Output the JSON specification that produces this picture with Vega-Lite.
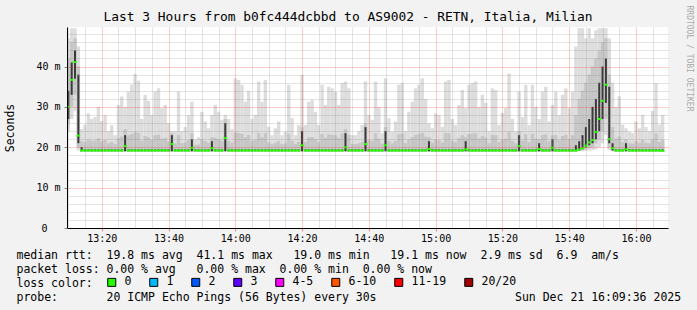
{
"$schema":"https://vega.github.io/schema/vega-lite/v6.json",
"width":601,"height":201,
"autosize":{"type":"none"},
"padding":{"left":67,"top":27,"right":29,"bottom":82},
"background":"#f2f2f2",
"view":{"fill":"#ffffff","stroke":null},
"config":{"font":"DejaVu Sans Mono"},
"title":{"text":"Last 3 Hours from b0fc444dcbbd to AS9002 - RETN, Italia, Milian","font":"DejaVu Sans Mono","fontSize":12.9,"fontWeight":"normal","color":"#000000","anchor":"middle","dx":-19.5,"offset":-19},
"data":{"values":[
{"m":10,"lo":24,"hi":47,"ml":26,"mh":42,"cl":27,"ch":34,"md":30},
{"m":11,"lo":27,"hi":49.5,"ml":30,"mh":46,"cl":33,"ch":41,"md":36.7},
{"m":12,"lo":29,"hi":49.5,"ml":33,"mh":47,"cl":37,"ch":44,"md":41.1},
{"m":13,"lo":19.2,"hi":45,"ml":20,"mh":40,"cl":21,"ch":38,"md":22.9},
{"m":14,"lo":19,"hi":24.5,"ml":19,"mh":21.5,"cl":19,"ch":20,"md":19.2},
{"m":15,"lo":19,"hi":25.6,"ml":19,"mh":21.3,"cl":19,"ch":19.5,"md":19.2},
{"m":16,"lo":19,"hi":28.4,"ml":19,"mh":21.9,"cl":19,"ch":19.5,"md":19.2},
{"m":17,"lo":19,"hi":27,"ml":19,"mh":21.6,"cl":19,"ch":19.5,"md":19.2},
{"m":18,"lo":19,"hi":27.5,"ml":19,"mh":21.7,"cl":19,"ch":19.5,"md":19.2},
{"m":19,"lo":19,"hi":30,"ml":19,"mh":22.2,"cl":19,"ch":19.5,"md":19.2},
{"m":20,"lo":19,"hi":26.5,"ml":19,"mh":21.5,"cl":19,"ch":19.5,"md":19.2},
{"m":21,"lo":19,"hi":28,"ml":19,"mh":21.8,"cl":19,"ch":19.5,"md":19.2},
{"m":22,"lo":19,"hi":24,"ml":19,"mh":21,"cl":19,"ch":19.5,"md":19.2},
{"m":23,"lo":19,"hi":25.5,"ml":19,"mh":21.3,"cl":19,"ch":19.5,"md":19.2},
{"m":24,"lo":19,"hi":23,"ml":19,"mh":20.8,"cl":19,"ch":19.5,"md":19.2},
{"m":25,"lo":19,"hi":30.5,"ml":19,"mh":22.3,"cl":19,"ch":19.5,"md":19.2},
{"m":26,"lo":19,"hi":32.6,"ml":19,"mh":22.7,"cl":19,"ch":19.5,"md":19.2},
{"m":27,"lo":19,"hi":30,"ml":19,"mh":24.5,"cl":19,"ch":23,"md":20.3},
{"m":28,"lo":19,"hi":33.8,"ml":19,"mh":23,"cl":19,"ch":19.5,"md":19.2},
{"m":29,"lo":19,"hi":35.5,"ml":19,"mh":23.3,"cl":19,"ch":19.5,"md":19.2},
{"m":30,"lo":19,"hi":38.1,"ml":19,"mh":23.8,"cl":19,"ch":19.5,"md":19.2},
{"m":31,"lo":19,"hi":36.5,"ml":19,"mh":23.5,"cl":19,"ch":19.5,"md":19.2},
{"m":32,"lo":19,"hi":27,"ml":19,"mh":21.6,"cl":19,"ch":19.5,"md":19.2},
{"m":33,"lo":19,"hi":33,"ml":19,"mh":22.8,"cl":19,"ch":19.5,"md":19.2},
{"m":34,"lo":19,"hi":31.5,"ml":19,"mh":22.5,"cl":19,"ch":19.5,"md":19.2},
{"m":35,"lo":19,"hi":28,"ml":19,"mh":21.8,"cl":19,"ch":19.5,"md":19.2},
{"m":36,"lo":19,"hi":33.8,"ml":19,"mh":23,"cl":19,"ch":19.5,"md":19.2},
{"m":37,"lo":19,"hi":34.6,"ml":19,"mh":23.1,"cl":19,"ch":19.5,"md":19.2},
{"m":38,"lo":19,"hi":29.7,"ml":19,"mh":22.1,"cl":19,"ch":19.5,"md":19.2},
{"m":39,"lo":19,"hi":30.5,"ml":19,"mh":22.3,"cl":19,"ch":19.5,"md":19.2},
{"m":40,"lo":19,"hi":26,"ml":19,"mh":21.4,"cl":19,"ch":19.5,"md":19.2},
{"m":41,"lo":19,"hi":24,"ml":19,"mh":23.5,"cl":19,"ch":23,"md":20.8},
{"m":42,"lo":19,"hi":24,"ml":19,"mh":21,"cl":19,"ch":19.5,"md":19.2},
{"m":43,"lo":19,"hi":33.8,"ml":19,"mh":23,"cl":19,"ch":19.5,"md":19.2},
{"m":44,"lo":19,"hi":24,"ml":19,"mh":21,"cl":19,"ch":19.5,"md":19.2},
{"m":45,"lo":19,"hi":25,"ml":19,"mh":21.2,"cl":19,"ch":19.5,"md":19.2},
{"m":46,"lo":19,"hi":28,"ml":19,"mh":21.8,"cl":19,"ch":19.5,"md":19.2},
{"m":47,"lo":19,"hi":31.3,"ml":19,"mh":23.5,"cl":19,"ch":22,"md":19.9},
{"m":48,"lo":19,"hi":22,"ml":19,"mh":20.6,"cl":19,"ch":19.5,"md":19.2},
{"m":49,"lo":19,"hi":22.5,"ml":19,"mh":20.7,"cl":19,"ch":19.5,"md":19.2},
{"m":50,"lo":19,"hi":28.8,"ml":19,"mh":22,"cl":19,"ch":19.5,"md":19.2},
{"m":51,"lo":19,"hi":26.4,"ml":19,"mh":21.5,"cl":19,"ch":19.5,"md":19.2},
{"m":52,"lo":19,"hi":24.7,"ml":19,"mh":21.1,"cl":19,"ch":19.5,"md":19.2},
{"m":53,"lo":19,"hi":28,"ml":19,"mh":22.5,"cl":19,"ch":21.5,"md":19.8},
{"m":54,"lo":19,"hi":30.5,"ml":19,"mh":22.3,"cl":19,"ch":19.5,"md":19.2},
{"m":55,"lo":19,"hi":28.8,"ml":19,"mh":22,"cl":19,"ch":19.5,"md":19.2},
{"m":56,"lo":19,"hi":26.8,"ml":19,"mh":21.6,"cl":19,"ch":19.5,"md":19.2},
{"m":57,"lo":19,"hi":28,"ml":19,"mh":27,"cl":19,"ch":26,"md":22.3},
{"m":58,"lo":19,"hi":27,"ml":19,"mh":21.6,"cl":19,"ch":19.5,"md":19.2},
{"m":59,"lo":19,"hi":24.5,"ml":19,"mh":21.1,"cl":19,"ch":19.5,"md":19.2},
{"m":60,"lo":19,"hi":37.1,"ml":19,"mh":23.6,"cl":19,"ch":19.5,"md":19.2},
{"m":61,"lo":19,"hi":36.7,"ml":19,"mh":23.5,"cl":19,"ch":19.5,"md":19.2},
{"m":62,"lo":19,"hi":35.5,"ml":19,"mh":23.3,"cl":19,"ch":19.5,"md":19.2},
{"m":63,"lo":19,"hi":31.3,"ml":19,"mh":22.5,"cl":19,"ch":19.5,"md":19.2},
{"m":64,"lo":19,"hi":34,"ml":19,"mh":23,"cl":19,"ch":19.5,"md":19.2},
{"m":65,"lo":19,"hi":27,"ml":19,"mh":21.6,"cl":19,"ch":19.5,"md":19.2},
{"m":66,"lo":19,"hi":28,"ml":19,"mh":21.8,"cl":19,"ch":19.5,"md":19.2},
{"m":67,"lo":19,"hi":36.3,"ml":19,"mh":23.5,"cl":19,"ch":19.5,"md":19.2},
{"m":68,"lo":19,"hi":31.3,"ml":19,"mh":22.5,"cl":19,"ch":19.5,"md":19.2},
{"m":69,"lo":19,"hi":36.7,"ml":19,"mh":23.5,"cl":19,"ch":19.5,"md":19.2},
{"m":70,"lo":19,"hi":25.1,"ml":19,"mh":21.2,"cl":19,"ch":19.5,"md":19.2},
{"m":71,"lo":19,"hi":23,"ml":19,"mh":20.8,"cl":19,"ch":19.5,"md":19.2},
{"m":72,"lo":19,"hi":24.7,"ml":19,"mh":21.1,"cl":19,"ch":19.5,"md":19.2},
{"m":73,"lo":19,"hi":26.4,"ml":19,"mh":21.5,"cl":19,"ch":19.5,"md":19.2},
{"m":74,"lo":19,"hi":23,"ml":19,"mh":20.8,"cl":19,"ch":19.5,"md":19.2},
{"m":75,"lo":19,"hi":23.9,"ml":19,"mh":21,"cl":19,"ch":19.5,"md":19.2},
{"m":76,"lo":19,"hi":35.5,"ml":19,"mh":23.3,"cl":19,"ch":19.5,"md":19.2},
{"m":77,"lo":19,"hi":27.2,"ml":19,"mh":21.6,"cl":19,"ch":19.5,"md":19.2},
{"m":78,"lo":19,"hi":23,"ml":19,"mh":20.8,"cl":19,"ch":19.5,"md":19.2},
{"m":79,"lo":19,"hi":25.5,"ml":19,"mh":21.3,"cl":19,"ch":19.5,"md":19.2},
{"m":80,"lo":19,"hi":37.9,"ml":19,"mh":25,"cl":19,"ch":24,"md":20.5},
{"m":81,"lo":19,"hi":25.5,"ml":19,"mh":21.3,"cl":19,"ch":19.5,"md":19.2},
{"m":82,"lo":19,"hi":31.3,"ml":19,"mh":22.5,"cl":19,"ch":19.5,"md":19.2},
{"m":83,"lo":19,"hi":31.7,"ml":19,"mh":22.5,"cl":19,"ch":19.5,"md":19.2},
{"m":84,"lo":19,"hi":28.8,"ml":19,"mh":22,"cl":19,"ch":19.5,"md":19.2},
{"m":85,"lo":19,"hi":25.5,"ml":19,"mh":21.3,"cl":19,"ch":19.5,"md":19.2},
{"m":86,"lo":19,"hi":35.5,"ml":19,"mh":23.3,"cl":19,"ch":19.5,"md":19.2},
{"m":87,"lo":19,"hi":30.5,"ml":19,"mh":22.3,"cl":19,"ch":19.5,"md":19.2},
{"m":88,"lo":19,"hi":35,"ml":19,"mh":23.2,"cl":19,"ch":19.5,"md":19.2},
{"m":89,"lo":19,"hi":34.6,"ml":19,"mh":23.1,"cl":19,"ch":19.5,"md":19.2},
{"m":90,"lo":19,"hi":33.8,"ml":19,"mh":23,"cl":19,"ch":19.5,"md":19.2},
{"m":91,"lo":19,"hi":30.5,"ml":19,"mh":22.3,"cl":19,"ch":19.5,"md":19.2},
{"m":92,"lo":19,"hi":35.9,"ml":19,"mh":23.4,"cl":19,"ch":19.5,"md":19.2},
{"m":93,"lo":19,"hi":36.3,"ml":19,"mh":24.5,"cl":19,"ch":23.5,"md":20},
{"m":94,"lo":19,"hi":34.6,"ml":19,"mh":23.1,"cl":19,"ch":19.5,"md":19.2},
{"m":95,"lo":19,"hi":23,"ml":19,"mh":20.8,"cl":19,"ch":19.5,"md":19.2},
{"m":96,"lo":19,"hi":23,"ml":19,"mh":20.8,"cl":19,"ch":19.5,"md":19.2},
{"m":97,"lo":19,"hi":24,"ml":19,"mh":21,"cl":19,"ch":19.5,"md":19.2},
{"m":98,"lo":19,"hi":25.5,"ml":19,"mh":21.3,"cl":19,"ch":19.5,"md":19.2},
{"m":99,"lo":19,"hi":36.3,"ml":19,"mh":26,"cl":19,"ch":25,"md":20.8},
{"m":100,"lo":19,"hi":28,"ml":19,"mh":21.8,"cl":19,"ch":19.5,"md":19.2},
{"m":101,"lo":19,"hi":26.8,"ml":19,"mh":21.6,"cl":19,"ch":19.5,"md":19.2},
{"m":102,"lo":19,"hi":36.3,"ml":19,"mh":23.5,"cl":19,"ch":19.5,"md":19.2},
{"m":103,"lo":19,"hi":30,"ml":19,"mh":22.2,"cl":19,"ch":19.5,"md":19.2},
{"m":104,"lo":19,"hi":23.5,"ml":19,"mh":20.9,"cl":19,"ch":19.5,"md":19.2},
{"m":105,"lo":19,"hi":37.1,"ml":19,"mh":25,"cl":19,"ch":24,"md":20.5},
{"m":106,"lo":19,"hi":27.2,"ml":19,"mh":21.6,"cl":19,"ch":19.5,"md":19.2},
{"m":107,"lo":19,"hi":23.9,"ml":19,"mh":21,"cl":19,"ch":19.5,"md":19.2},
{"m":108,"lo":19,"hi":26.4,"ml":19,"mh":21.5,"cl":19,"ch":19.5,"md":19.2},
{"m":109,"lo":19,"hi":35.5,"ml":19,"mh":23.3,"cl":19,"ch":19.5,"md":19.2},
{"m":110,"lo":19,"hi":35.9,"ml":19,"mh":23.4,"cl":19,"ch":19.5,"md":19.2},
{"m":111,"lo":19,"hi":24,"ml":19,"mh":21,"cl":19,"ch":19.5,"md":19.2},
{"m":112,"lo":19,"hi":28.8,"ml":19,"mh":22,"cl":19,"ch":19.5,"md":19.2},
{"m":113,"lo":19,"hi":31.3,"ml":19,"mh":22.5,"cl":19,"ch":19.5,"md":19.2},
{"m":114,"lo":19,"hi":34.6,"ml":19,"mh":23.1,"cl":19,"ch":19.5,"md":19.2},
{"m":115,"lo":19,"hi":35.5,"ml":19,"mh":23.3,"cl":19,"ch":19.5,"md":19.2},
{"m":116,"lo":19,"hi":37.1,"ml":19,"mh":23.6,"cl":19,"ch":19.5,"md":19.2},
{"m":117,"lo":19,"hi":32,"ml":19,"mh":22.6,"cl":19,"ch":19.5,"md":19.2},
{"m":118,"lo":19,"hi":26,"ml":19,"mh":22.5,"cl":19,"ch":21.5,"md":19.6},
{"m":119,"lo":19,"hi":24.7,"ml":19,"mh":21.1,"cl":19,"ch":19.5,"md":19.2},
{"m":120,"lo":19,"hi":28.4,"ml":19,"mh":21.9,"cl":19,"ch":19.5,"md":19.2},
{"m":121,"lo":19,"hi":28,"ml":19,"mh":21.8,"cl":19,"ch":19.5,"md":19.2},
{"m":122,"lo":19,"hi":25,"ml":19,"mh":21.2,"cl":19,"ch":19.5,"md":19.2},
{"m":123,"lo":19,"hi":36.3,"ml":19,"mh":23.5,"cl":19,"ch":19.5,"md":19.2},
{"m":124,"lo":19,"hi":36.7,"ml":19,"mh":23.5,"cl":19,"ch":19.5,"md":19.2},
{"m":125,"lo":19,"hi":27,"ml":19,"mh":21.6,"cl":19,"ch":19.5,"md":19.2},
{"m":126,"lo":19,"hi":25.5,"ml":19,"mh":21.3,"cl":19,"ch":19.5,"md":19.2},
{"m":127,"lo":19,"hi":30.5,"ml":19,"mh":22.3,"cl":19,"ch":19.5,"md":19.2},
{"m":128,"lo":19,"hi":34.2,"ml":19,"mh":23,"cl":19,"ch":19.5,"md":19.2},
{"m":129,"lo":19,"hi":29.7,"ml":19,"mh":22.5,"cl":19,"ch":21.5,"md":19.5},
{"m":130,"lo":19,"hi":35.5,"ml":19,"mh":23.3,"cl":19,"ch":19.5,"md":19.2},
{"m":131,"lo":19,"hi":35.9,"ml":19,"mh":23.4,"cl":19,"ch":19.5,"md":19.2},
{"m":132,"lo":19,"hi":36.3,"ml":19,"mh":23.5,"cl":19,"ch":19.5,"md":19.2},
{"m":133,"lo":19,"hi":30,"ml":19,"mh":22.2,"cl":19,"ch":19.5,"md":19.2},
{"m":134,"lo":19,"hi":33,"ml":19,"mh":22.8,"cl":19,"ch":19.5,"md":19.2},
{"m":135,"lo":19,"hi":31,"ml":19,"mh":22.4,"cl":19,"ch":19.5,"md":19.2},
{"m":136,"lo":19,"hi":24,"ml":19,"mh":21,"cl":19,"ch":19.5,"md":19.2},
{"m":137,"lo":19,"hi":34.6,"ml":19,"mh":23.1,"cl":19,"ch":19.5,"md":19.2},
{"m":138,"lo":19,"hi":34.2,"ml":19,"mh":23,"cl":19,"ch":19.5,"md":19.2},
{"m":139,"lo":19,"hi":25.5,"ml":19,"mh":21.3,"cl":19,"ch":19.5,"md":19.2},
{"m":140,"lo":19,"hi":28.5,"ml":19,"mh":21.9,"cl":19,"ch":19.5,"md":19.2},
{"m":141,"lo":19,"hi":29.7,"ml":19,"mh":22.1,"cl":19,"ch":19.5,"md":19.2},
{"m":142,"lo":19,"hi":38.3,"ml":19,"mh":23.9,"cl":19,"ch":19.5,"md":19.2},
{"m":143,"lo":19,"hi":27,"ml":19,"mh":21.6,"cl":19,"ch":19.5,"md":19.2},
{"m":144,"lo":19,"hi":24,"ml":19,"mh":21,"cl":19,"ch":19.5,"md":19.2},
{"m":145,"lo":19,"hi":33.8,"ml":19,"mh":24,"cl":19,"ch":23,"md":20.3},
{"m":146,"lo":19,"hi":27.5,"ml":19,"mh":21.7,"cl":19,"ch":19.5,"md":19.2},
{"m":147,"lo":19,"hi":35.5,"ml":19,"mh":23.3,"cl":19,"ch":19.5,"md":19.2},
{"m":148,"lo":19,"hi":25.5,"ml":19,"mh":21.3,"cl":19,"ch":19.5,"md":19.2},
{"m":149,"lo":19,"hi":35.5,"ml":19,"mh":23.3,"cl":19,"ch":19.5,"md":19.2},
{"m":150,"lo":19,"hi":30,"ml":19,"mh":22.2,"cl":19,"ch":19.5,"md":19.2},
{"m":151,"lo":19,"hi":27,"ml":19,"mh":22,"cl":19,"ch":21,"md":19.6},
{"m":152,"lo":19,"hi":33.8,"ml":19,"mh":23,"cl":19,"ch":19.5,"md":19.2},
{"m":153,"lo":19,"hi":35,"ml":19,"mh":23.2,"cl":19,"ch":19.5,"md":19.2},
{"m":154,"lo":19,"hi":26.4,"ml":19,"mh":21.5,"cl":19,"ch":19.5,"md":19.2},
{"m":155,"lo":19,"hi":30.5,"ml":19,"mh":23,"cl":19,"ch":22,"md":19.9},
{"m":156,"lo":19,"hi":33.8,"ml":19,"mh":23,"cl":19,"ch":19.5,"md":19.2},
{"m":157,"lo":19,"hi":28,"ml":19,"mh":21.8,"cl":19,"ch":19.5,"md":19.2},
{"m":158,"lo":19,"hi":33,"ml":19,"mh":22.8,"cl":19,"ch":19.5,"md":19.2},
{"m":159,"lo":19,"hi":34.6,"ml":19,"mh":23.1,"cl":19,"ch":19.5,"md":19.2},
{"m":160,"lo":19,"hi":29.7,"ml":19,"mh":22.1,"cl":19,"ch":19.5,"md":19.2},
{"m":161,"lo":19,"hi":33.8,"ml":19,"mh":23,"cl":19,"ch":19.5,"md":19.2},
{"m":162,"lo":19,"hi":45,"ml":19,"mh":28,"cl":19,"ch":20.5,"md":19.2},
{"m":163,"lo":19,"hi":49.5,"ml":19.2,"mh":32,"cl":19.2,"ch":21.5,"md":19.4},
{"m":164,"lo":19,"hi":49.5,"ml":19.3,"mh":34,"cl":19.5,"ch":23,"md":19.8},
{"m":165,"lo":19.1,"hi":47,"ml":19.5,"mh":36,"cl":20,"ch":25,"md":20.4},
{"m":166,"lo":19.2,"hi":49.5,"ml":19.8,"mh":38,"cl":20.5,"ch":27,"md":21.2},
{"m":167,"lo":19.3,"hi":47,"ml":20,"mh":40,"cl":21,"ch":30,"md":21.8},
{"m":168,"lo":19.5,"hi":49,"ml":21,"mh":42,"cl":22,"ch":32,"md":23.8},
{"m":169,"lo":20,"hi":49.5,"ml":22,"mh":44,"cl":24,"ch":36,"md":27},
{"m":170,"lo":21,"hi":49.5,"ml":24,"mh":46,"cl":27,"ch":40,"md":31.5},
{"m":171,"lo":23,"hi":49.5,"ml":27,"mh":47,"cl":31,"ch":42,"md":35.5},
{"m":172,"lo":19.3,"hi":47,"ml":20,"mh":38,"cl":21,"ch":35,"md":22},
{"m":173,"lo":19,"hi":36,"ml":19.2,"mh":25,"cl":19.2,"ch":21,"md":19.8},
{"m":174,"lo":19,"hi":30,"ml":19,"mh":22.2,"cl":19,"ch":19.5,"md":19.2},
{"m":175,"lo":19,"hi":32.6,"ml":19,"mh":22.7,"cl":19,"ch":19.5,"md":19.2},
{"m":176,"lo":19,"hi":25.6,"ml":19,"mh":21.3,"cl":19,"ch":19.5,"md":19.2},
{"m":177,"lo":19,"hi":24.7,"ml":19,"mh":22,"cl":19,"ch":21,"md":19.5},
{"m":178,"lo":19,"hi":23.9,"ml":19,"mh":21,"cl":19,"ch":19.5,"md":19.2},
{"m":179,"lo":19,"hi":23.5,"ml":19,"mh":20.9,"cl":19,"ch":19.5,"md":19.2},
{"m":180,"lo":19,"hi":26.4,"ml":19,"mh":21.5,"cl":19,"ch":19.5,"md":19.2},
{"m":181,"lo":19,"hi":24.7,"ml":19,"mh":21.1,"cl":19,"ch":19.5,"md":19.2},
{"m":182,"lo":19,"hi":28,"ml":19,"mh":21.8,"cl":19,"ch":19.5,"md":19.2},
{"m":183,"lo":19,"hi":25,"ml":19,"mh":21.2,"cl":19,"ch":19.5,"md":19.2},
{"m":184,"lo":19,"hi":24,"ml":19,"mh":21,"cl":19,"ch":19.5,"md":19.2},
{"m":185,"lo":19,"hi":29,"ml":19,"mh":22,"cl":19,"ch":19.5,"md":19.2},
{"m":186,"lo":19,"hi":35.9,"ml":19,"mh":23.4,"cl":19,"ch":19.5,"md":19.2},
{"m":187,"lo":19,"hi":25.6,"ml":19,"mh":21.3,"cl":19,"ch":19.5,"md":19.2},
{"m":188,"lo":19,"hi":28,"ml":19,"mh":21.8,"cl":19,"ch":19.5,"md":19.1}
]},
"layer":[
{"mark":{"type":"bar","width":3.4,"color":"#dddddd","clip":true},
 "encoding":{
  "x":{"field":"m","type":"quantitative","scale":{"domain":[9.6,189.6],"nice":false,"zero":false,"padding":0},
   "axis":{"orient":"top","values":[10,15,25,30,35,45,50,55,65,70,75,85,90,95,105,110,115,125,130,135,145,150,155,165,170,175,185],"grid":true,"gridColor":"#888888","gridOpacity":0.45,"gridDash":[1,1],"labels":false,"ticks":false,"domain":false,"title":null,"zindex":1}},
  "y":{"field":"lo","type":"quantitative","scale":{"domain":[0,49.8],"nice":false,"zero":true,"padding":0},
   "axis":{"orient":"right","values":[2,4,6,8,12,14,16,18,22,24,26,28,32,34,36,38,42,44,46,48],"grid":true,"gridColor":"#888888","gridOpacity":0.45,"gridDash":[1,1],"labels":false,"ticks":false,"domain":false,"zindex":1,
    "title":"RRDTOOL / TOBI OETIKER","titleAngle":90,"titleX":20,"titleY":-22,"titleAlign":"left","titleBaseline":"middle","titleFont":"DejaVu Sans Mono","titleFontSize":8,"titleFontWeight":"normal","titleColor":"#aaaaaa"}},
  "y2":{"field":"hi"}}},
{"mark":{"type":"bar","width":3.4,"color":"#c6c6c6","clip":true},
 "encoding":{
  "x":{"field":"m","type":"quantitative",
   "axis":{"orient":"bottom","values":[20,40,60,80,100,120,140,160,180],"labelExpr":"(13 + floor(datum.value / 60)) + ':' + (datum.value % 60 == 0 ? '00' : (datum.value % 60))","grid":true,"gridColor":"#ff0000","gridOpacity":0.4,"gridDash":[1,1],"domain":true,"domainColor":"#000000","domainWidth":1,"ticks":true,"tickColor":"#f08080","tickSize":3,"labelFont":"DejaVu Sans Mono","labelFontSize":10,"labelColor":"#000000","labelPadding":2,"labelFlush":false,"labelOverlap":false,"zindex":2,
    "title":["median rtt:\u00a0\u00a019.8 ms avg\u00a0\u00a041.1 ms max\u00a0\u00a0\u00a019.0 ms min\u00a0\u00a0\u00a019.1 ms now\u00a0\u00a02.9 ms sd\u00a0\u00a06.9\u00a0\u00a0am/s","packet loss: 0.00 % avg\u00a0\u00a0\u00a00.00 % max\u00a0\u00a00.00 % min\u00a0\u00a00.00 % now","loss color:","probe:\u00a0\u00a0\u00a0\u00a0\u00a0\u00a0\u00a020 ICMP Echo Pings (56 Bytes) every 30s\u00a0\u00a0\u00a0\u00a0\u00a0\u00a0\u00a0\u00a0\u00a0\u00a0\u00a0\u00a0\u00a0\u00a0\u00a0\u00a0\u00a0\u00a0\u00a0\u00a0Sun Dec 21 16:09:36 2025"],
    "titleFont":"DejaVu Sans Mono","titleFontSize":11.5,"titleFontWeight":"normal","titleColor":"#000000","titleAlign":"left","titleAnchor":"start","titleX":-51,"titleY":30,"titleBaseline":"alphabetic","titleLineHeight":14}},
  "y":{"field":"ml","type":"quantitative",
   "axis":{"orient":"left","values":[0,10,20,30,40],"labelExpr":"datum.value == 0 ? '0' : datum.value + ' m'","labelPadding":{"condition":{"test":"datum.value == 0","value":17},"value":4},"grid":true,"gridColor":"#ff0000","gridOpacity":0.4,"gridDash":[1,1],"domain":true,"domainColor":"#000000","domainWidth":1,"ticks":true,"tickColor":"#888888","tickSize":3,"labelFont":"DejaVu Sans Mono","labelFontSize":10,"labelColor":"#000000","zindex":2,
    "title":"Seconds","titleFont":"DejaVu Sans Mono","titleFontSize":11.5,"titleFontWeight":"normal","titleColor":"#000000","titleAngle":270,"titleX":-57,"titleY":100.5,"titleAlign":"center","titleBaseline":"middle"}},
  "y2":{"field":"mh"}}},
{"mark":{"type":"bar","width":2,"color":"#3a3a3a","clip":true},
 "encoding":{
  "x":{"field":"m","type":"quantitative","axis":null},
  "y":{"field":"cl","type":"quantitative","axis":null},
  "y2":{"field":"ch"}}},
{"mark":{"type":"tick","orient":"horizontal","thickness":2,"size":3.4,"color":"#26ff00","opacity":1,"clip":true},
 "encoding":{
  "x":{"field":"m","type":"quantitative","axis":null},
  "y":{"field":"md","type":"quantitative","axis":null}}},
{"data":{"values":[{"c":"0"},{"c":"1"},{"c":"2"},{"c":"3"},{"c":"4-5"},{"c":"6-10"},{"c":"11-19"},{"c":"20/20"}]},
 "mark":{"type":"square","opacity":0,"size":1},
 "encoding":{
  "color":{"field":"c","type":"nominal","scale":{"domain":["0","1","2","3","4-5","6-10","11-19","20/20"],"range":["#26ff00","#00b8ff","#0059ff","#5e00ff","#ff00ff","#ff5500","#ff0000","#a10000"]},
   "legend":{"orient":"none","legendX":39,"legendY":249.5,"direction":"horizontal","columns":8,"title":null,"symbolType":"square","symbolSize":64,"symbolStrokeColor":"#000000","symbolStrokeWidth":1,"symbolOpacity":1,"labelFont":"DejaVu Sans Mono","labelFontSize":11.5,"labelColor":"#000000","labelOffset":7,"columnPadding":15,"padding":0}}}}
],
"resolve":{"axis":{"x":"independent","y":"independent"}}
}
